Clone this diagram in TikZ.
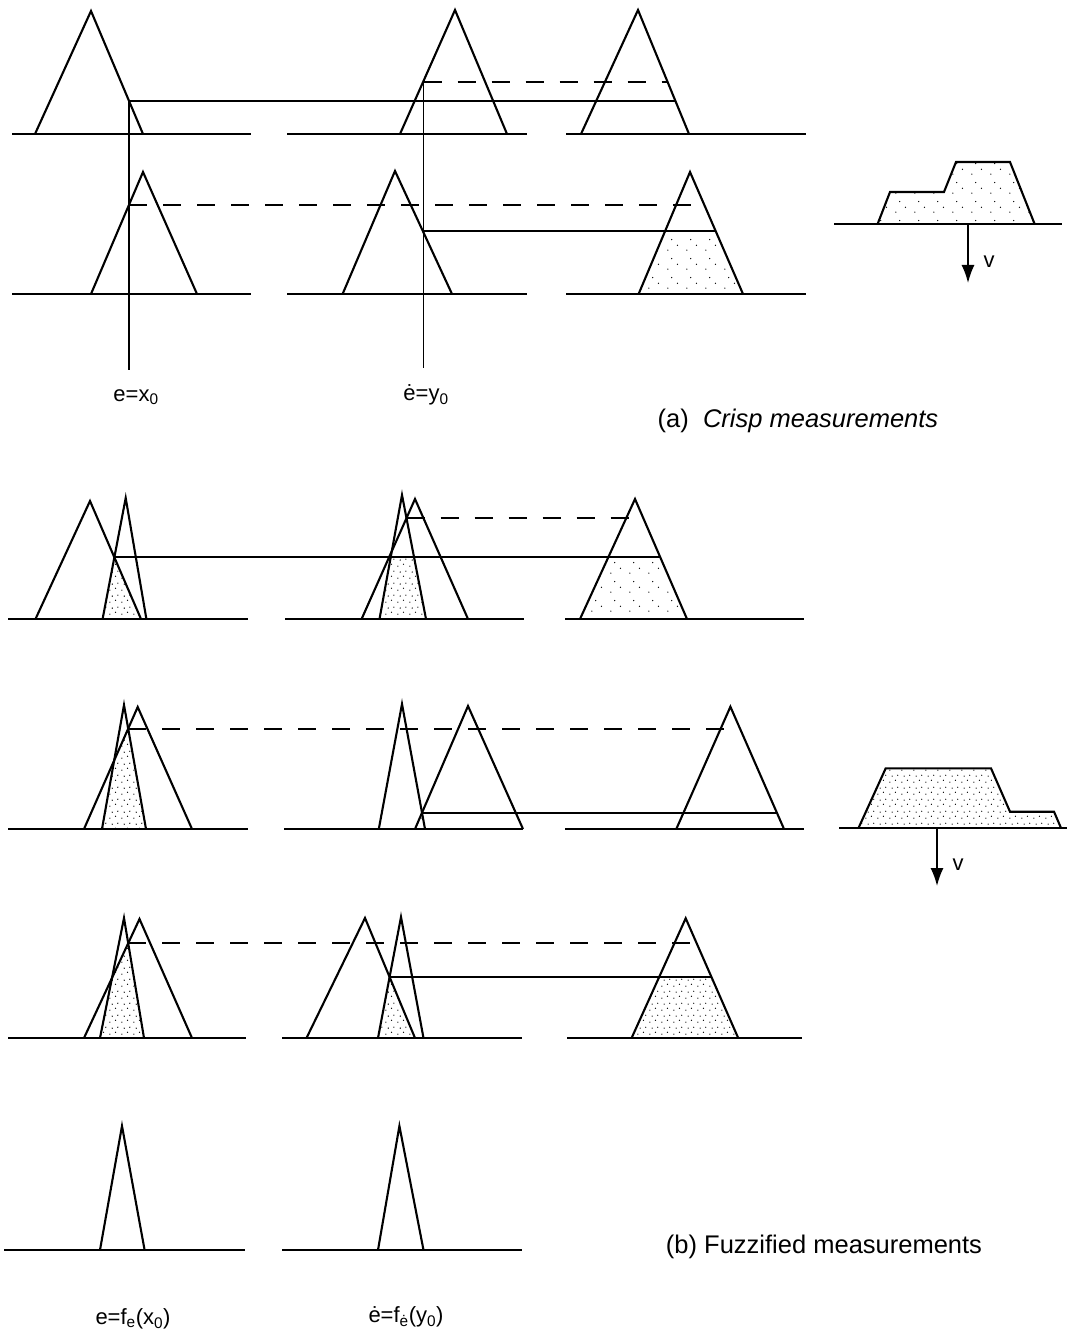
\documentclass[tikz,border=0pt]{standalone}
\usepackage{fontspec}
\setmainfont{Liberation Sans}
\usetikzlibrary{patterns,arrows.meta}

\pgfdeclarepatternformonly{stipple}{\pgfqpoint{0pt}{0pt}}{\pgfqpoint{12pt}{12pt}}{\pgfqpoint{12pt}{12pt}}{%
  \pgfpathcircle{\pgfqpoint{2pt}{3pt}}{0.7pt}
  \pgfpathcircle{\pgfqpoint{8pt}{5pt}}{0.7pt}
  \pgfpathcircle{\pgfqpoint{4.5pt}{9.5pt}}{0.7pt}
  \pgfpathcircle{\pgfqpoint{10.5pt}{10.5pt}}{0.7pt}
  \pgfusepath{fill}}
\pgfdeclarepatternformonly{sparsestipple}{\pgfqpoint{0pt}{0pt}}{\pgfqpoint{19pt}{19pt}}{\pgfqpoint{19pt}{19pt}}{%
  \pgfpathcircle{\pgfqpoint{3pt}{4pt}}{0.7pt}
  \pgfpathcircle{\pgfqpoint{13pt}{9pt}}{0.7pt}
  \pgfpathcircle{\pgfqpoint{7pt}{15pt}}{0.7pt}
  \pgfusepath{fill}}

\begin{document}
\begin{tikzpicture}[x=1pt,y=-1pt,
  tri/.style={line width=2.1pt,line join=miter},
  baseln/.style={line width=2.5pt},
  vline/.style={line width=1.2pt},
  hsolid/.style={line width=2.1pt},
  hdash/.style={line width=2.1pt,dash pattern=on 18pt off 16pt},
  shade/.style={pattern=stipple},
  lightshade/.style={pattern=sparsestipple},
  lab/.style={font=\fontsize{22}{24}\selectfont,inner sep=0pt},
  captext/.style={font=\fontsize{25.5}{28}\selectfont,inner sep=0pt},
  arr/.style={line width=1.6pt,-{Latex[length=18pt,width=13pt]}}]
\useasboundingbox (0,0) rectangle (1067,1337);

% ================= (a) Crisp measurements =================
% shading
\path[lightshade] (638.6,294) -- (665.1,231) -- (715.6,231) -- (743,294) -- cycle;
\path[lightshade] (877.6,224) -- (890,192) -- (944,192) -- (956,162) -- (1010,162) -- (1034.6,224) -- cycle;
% row 1
\draw[baseln] (12,134) -- (251,134);
\draw[baseln] (287,134) -- (527,134);
\draw[baseln] (566,134) -- (806,134);
\draw[tri] (35,134) -- (91,11) -- (143,134);
\draw[tri] (400,134) -- (455,10) -- (507,134);
\draw[tri] (581,134) -- (638,10) -- (689,134);
\draw[hsolid] (129,101) -- (675.4,101);
\draw[hdash] (423.5,82) -- (667.6,82);
% row 2
\draw[baseln] (12,294) -- (251,294);
\draw[baseln] (287,294) -- (527,294);
\draw[baseln] (566,294) -- (806,294);
\draw[tri] (91,294) -- (143,172) -- (197,294);
\draw[tri] (342.6,294) -- (395,171) -- (452,294);
\draw[tri] (638.6,294) -- (690,172) -- (743,294);
\draw[hdash] (129,205) -- (704.3,205);
\draw[hsolid] (423.5,231) -- (715.6,231);
% measurement lines
\draw[vline] (129,100) -- (129,370);
\draw[vline] (423.5,82) -- (423.5,368);
% output (a)
\draw[baseln] (834,224) -- (1062,224);
\draw[tri] (877.6,224) -- (890,192) -- (944,192) -- (956,162) -- (1010,162) -- (1034.6,224);
\coordinate (va0) at (968,224);
\coordinate (va1) at (968,283);
\draw[arr] (va0) -- (va1);
\node[lab] (va) at (989,262) {v};
% labels (a)
\node[lab] (ex) at (136,397) {e=x\textsubscript{0}};
\node[lab] (edy) at (426,395) {ė=y\textsubscript{0}};
\node[captext] (capa) at (798,421) {(a)\ \ \textit{Crisp measurements}};

% ================= (b) Fuzzified measurements =================
% shading
\path[shade] (102.6,619) -- (114.3,557.3) -- (141,619) -- cycle;
\path[shade] (379.5,619) -- (390.7,557.3) -- (414.1,557.3) -- (426,619) -- cycle;
\path[lightshade] (580,619) -- (608.3,557.3) -- (660.3,557.3) -- (687,619) -- cycle;
\path[shade] (102,829) -- (114.2,760.5) -- (128.2,728.7) -- (146,829) -- cycle;
\path[shade] (415,829) -- (422,812.7) -- (425,829) -- cycle;
\path[shade] (100,1038) -- (112,977.9) -- (128.2,943.2) -- (144,1038) -- cycle;
\path[shade] (378,1038) -- (389.6,976.9) -- (415,1038) -- cycle;
\path[shade] (631.6,1038) -- (659.2,976.9) -- (711.4,976.9) -- (738.2,1038) -- cycle;
\path[shade] (858.5,828) -- (885.7,768.3) -- (991,768.3) -- (1010,811.7) -- (1054,811.7) -- (1061,828) -- cycle;

% row 1
\draw[baseln] (8,619) -- (248,619);
\draw[baseln] (285,619) -- (524,619);
\draw[baseln] (565,619) -- (804,619);
\draw[tri] (35.5,619) -- (90,501) -- (141,619);
\draw[tri] (102.6,619) -- (125.7,498) -- (146.4,619);
\draw[tri] (379.5,619) -- (402,495) -- (426,619);
\draw[tri] (361.6,619) -- (415,499) -- (468,619);
\draw[tri] (580,619) -- (635,499) -- (687,619);
\draw[hsolid] (114.3,557.3) -- (660.3,557.3);
\draw[hdash] (406.5,518.3) -- (643.4,518.3);

% row 2
\draw[baseln] (8,829) -- (248,829);
\draw[baseln] (284,829) -- (523,829);
\draw[baseln] (565,829) -- (804,829);
\draw[tri] (102,829) -- (124,705) -- (146,829);
\draw[tri] (84,829) -- (137.7,707) -- (192,829);
\draw[tri] (378.8,829) -- (402,704) -- (425,829);
\draw[tri] (415,829) -- (468,706) -- (523,829);
\draw[tri] (676.3,829) -- (730.4,706.7) -- (784,829);
\draw[hdash] (128.2,728.7) -- (740,728.7);
\draw[hsolid] (422,812.7) -- (776.9,812.7);

% output (b)
\draw[baseln] (839,828) -- (1067,828);
\draw[tri] (858.5,828) -- (885.7,768.3) -- (991,768.3) -- (1010,811.7) -- (1054,811.7) -- (1061,828);
\coordinate (vb0) at (937,828);
\coordinate (vb1) at (937,886);
\draw[arr] (vb0) -- (vb1);
\node[lab] (vb) at (958,865) {v};

% row 3
\draw[baseln] (8,1038) -- (246,1038);
\draw[baseln] (282,1038) -- (522,1038);
\draw[baseln] (567,1038) -- (802,1038);
\draw[tri] (100,1038) -- (124,918) -- (144,1038);
\draw[tri] (84,1038) -- (139.5,919) -- (192,1038);
\draw[tri] (306.5,1038) -- (365,918) -- (415,1038);
\draw[tri] (378,1038) -- (401,917) -- (423.5,1038);
\draw[tri] (631.6,1038) -- (685.7,918.3) -- (738.2,1038);
\draw[hdash] (128.2,943.2) -- (696.6,943.2);
\draw[hsolid] (389.6,976.9) -- (711.4,976.9);

% row 4: fuzzified inputs
\draw[baseln] (4,1250) -- (244.5,1250);
\draw[baseln] (282,1250) -- (522,1250);
\draw[tri] (100,1250) -- (122,1126) -- (144.6,1250);
\draw[tri] (378,1250) -- (399.4,1126) -- (423.5,1250);

% labels (b)
\node[captext] (capb) at (824,1247) {(b) Fuzzified measurements};
\node[lab] (efx) at (133,1319) {e=f\textsubscript{e}(x\textsubscript{0})};
\node[lab] (edfy) at (406,1317) {ė=f\textsubscript{ė}(y\textsubscript{0})};
\end{tikzpicture}
\end{document}
